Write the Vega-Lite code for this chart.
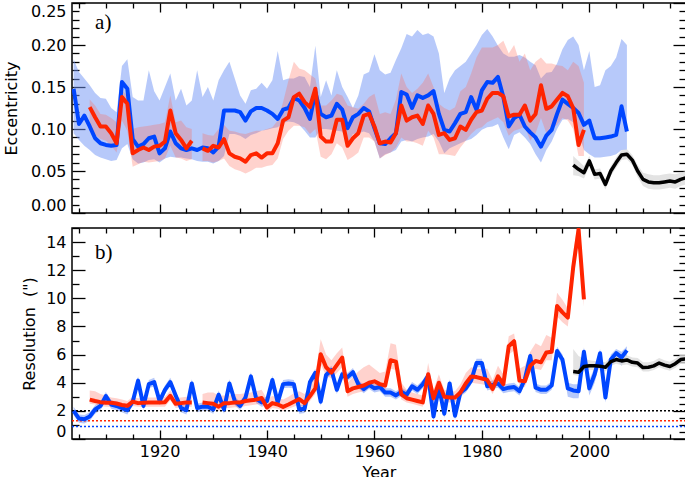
{
  "$schema": "https://vega.github.io/schema/vega-lite/v6.json",
  "background": "white",
  "padding": {"left": 2, "top": 1, "right": 1, "bottom": 0},
  "spacing": 11,
  "config": {
    "view": {"stroke": "black", "strokeWidth": 1.5},
    "axis": {"labelFont": "DejaVu Sans", "labelFontSize": 16, "titleFont": "DejaVu Sans", "titleFontSize": 16, "titleFontWeight": "normal", "labelColor": "black", "titleColor": "black", "tickColor": "black", "tickWidth": 1.3, "domain": false, "grid": false, "labelOverlap": false}
  },
  "datasets": {
    "top": [
      {"year":1904,"b":0.148,"bl":0.095,"bh":0.183},
      {"year":1905,"b":0.106,"bl":0.087,"bh":0.168},
      {"year":1906,"b":0.116,"bl":0.080,"bh":0.160},
      {"year":1907,"b":0.103,"bl":0.075,"bh":0.152,"r":0.126,"rl":0.098,"rh":0.135},
      {"year":1908,"b":0.089,"bl":0.069,"bh":0.143,"r":0.114,"rl":0.093,"rh":0.128},
      {"year":1909,"b":0.083,"bl":0.066,"bh":0.137,"r":0.103,"rl":0.088,"rh":0.118},
      {"year":1910,"b":0.081,"bl":0.064,"bh":0.136,"r":0.103,"rl":0.086,"rh":0.117},
      {"year":1911,"b":0.080,"bl":0.062,"bh":0.125,"r":0.095,"rl":0.080,"rh":0.113},
      {"year":1912,"b":0.081,"bl":0.063,"bh":0.120,"r":0.083,"rl":0.072,"rh":0.108},
      {"year":1913,"b":0.156,"bl":0.077,"bh":0.175,"r":0.138,"rl":0.110,"rh":0.146},
      {"year":1914,"b":0.148,"bl":0.082,"bh":0.183,"r":0.130,"rl":0.098,"rh":0.140},
      {"year":1915,"b":0.088,"bl":0.064,"bh":0.138,"r":0.071,"rl":0.055,"rh":0.100},
      {"year":1916,"b":0.079,"bl":0.059,"bh":0.134,"r":0.075,"rl":0.058,"rh":0.102},
      {"year":1917,"b":0.082,"bl":0.060,"bh":0.134,"r":0.078,"rl":0.061,"rh":0.103},
      {"year":1918,"b":0.089,"bl":0.063,"bh":0.170,"r":0.075,"rl":0.060,"rh":0.104},
      {"year":1919,"b":0.091,"bl":0.064,"bh":0.145,"r":0.079,"rl":0.061,"rh":0.105},
      {"year":1920,"b":0.071,"bl":0.060,"bh":0.134,"r":0.080,"rl":0.062,"rh":0.106},
      {"year":1921,"b":0.077,"bl":0.065,"bh":0.150,"r":0.085,"rl":0.065,"rh":0.108},
      {"year":1922,"b":0.097,"bl":0.067,"bh":0.166,"r":0.122,"rl":0.080,"rh":0.140},
      {"year":1923,"b":0.083,"bl":0.066,"bh":0.134,"r":0.095,"rl":0.066,"rh":0.108},
      {"year":1924,"b":0.077,"bl":0.066,"bh":0.148,"r":0.087,"rl":0.065,"rh":0.110},
      {"year":1925,"b":0.075,"bl":0.065,"bh":0.128,"r":0.077,"rl":0.062,"rh":0.102},
      {"year":1926,"b":0.077,"bl":0.064,"bh":0.134,"r":0.086,"rl":0.064,"rh":0.100},
      {"year":1927,"b":0.075,"bl":0.062,"bh":0.170},
      {"year":1928,"b":0.078,"bl":0.061,"bh":0.138,"r":0.077,"rl":0.062,"rh":0.095},
      {"year":1929,"b":0.077,"bl":0.061,"bh":0.150,"r":0.074,"rl":0.062,"rh":0.093},
      {"year":1930,"b":0.072,"bl":0.059,"bh":0.134,"r":0.080,"rl":0.060,"rh":0.092},
      {"year":1931,"b":0.079,"bl":0.062,"bh":0.158,"r":0.078,"rl":0.062,"rh":0.100},
      {"year":1932,"b":0.122,"bl":0.068,"bh":0.170,"r":0.088,"rl":0.065,"rh":0.105},
      {"year":1933,"b":0.122,"bl":0.094,"bh":0.180,"r":0.071,"rl":0.056,"rh":0.098},
      {"year":1934,"b":0.122,"bl":0.094,"bh":0.160,"r":0.067,"rl":0.052,"rh":0.097},
      {"year":1935,"b":0.120,"bl":0.092,"bh":0.140,"r":0.065,"rl":0.050,"rh":0.095},
      {"year":1936,"b":0.110,"bl":0.088,"bh":0.130,"r":0.061,"rl":0.047,"rh":0.094},
      {"year":1937,"b":0.121,"bl":0.093,"bh":0.146,"r":0.069,"rl":0.050,"rh":0.096},
      {"year":1938,"b":0.125,"bl":0.095,"bh":0.148,"r":0.071,"rl":0.054,"rh":0.098},
      {"year":1939,"b":0.125,"bl":0.098,"bh":0.155,"r":0.066,"rl":0.054,"rh":0.098},
      {"year":1940,"b":0.122,"bl":0.099,"bh":0.148,"r":0.071,"rl":0.056,"rh":0.100},
      {"year":1941,"b":0.118,"bl":0.101,"bh":0.158,"r":0.071,"rl":0.057,"rh":0.102},
      {"year":1942,"b":0.112,"bl":0.102,"bh":0.193,"r":0.083,"rl":0.065,"rh":0.110},
      {"year":1943,"b":0.123,"bl":0.107,"bh":0.158,"r":0.110,"rl":0.088,"rh":0.132},
      {"year":1944,"b":0.125,"bl":0.109,"bh":0.160,"r":0.114,"rl":0.098,"rh":0.158},
      {"year":1945,"b":0.137,"bl":0.108,"bh":0.160,"r":0.138,"rl":0.104,"rh":0.180},
      {"year":1946,"b":0.134,"bl":0.105,"bh":0.163,"r":0.142,"rl":0.104,"rh":0.172},
      {"year":1947,"b":0.125,"bl":0.098,"bh":0.162,"r":0.132,"rl":0.102,"rh":0.170},
      {"year":1948,"b":0.112,"bl":0.090,"bh":0.150,"r":0.126,"rl":0.094,"rh":0.165},
      {"year":1949,"b":0.144,"bl":0.090,"bh":0.199,"r":0.148,"rl":0.100,"rh":0.160},
      {"year":1950,"b":0.118,"bl":0.100,"bh":0.138,"r":0.091,"rl":0.067,"rh":0.128},
      {"year":1951,"b":0.114,"bl":0.100,"bh":0.158,"r":0.085,"rl":0.064,"rh":0.128},
      {"year":1952,"b":0.116,"bl":0.099,"bh":0.140,"r":0.085,"rl":0.070,"rh":0.134},
      {"year":1953,"b":0.130,"bl":0.098,"bh":0.170,"r":0.111,"rl":0.083,"rh":0.142},
      {"year":1954,"b":0.123,"bl":0.097,"bh":0.150,"r":0.111,"rl":0.078,"rh":0.140},
      {"year":1955,"b":0.101,"bl":0.083,"bh":0.138,"r":0.080,"rl":0.063,"rh":0.128},
      {"year":1956,"b":0.114,"bl":0.094,"bh":0.125,"r":0.089,"rl":0.067,"rh":0.126},
      {"year":1957,"b":0.118,"bl":0.095,"bh":0.140,"r":0.095,"rl":0.072,"rh":0.124},
      {"year":1958,"b":0.125,"bl":0.097,"bh":0.165,"r":0.116,"rl":0.090,"rh":0.130},
      {"year":1959,"b":0.121,"bl":0.095,"bh":0.168,"r":0.118,"rl":0.090,"rh":0.138},
      {"year":1960,"b":0.101,"bl":0.085,"bh":0.189,"r":0.103,"rl":0.085,"rh":0.142},
      {"year":1961,"b":0.083,"bl":0.065,"bh":0.170,"r":0.083,"rl":0.065,"rh":0.118},
      {"year":1962,"b":0.082,"bl":0.070,"bh":0.165,"r":0.085,"rl":0.069,"rh":0.120},
      {"year":1963,"b":0.089,"bl":0.072,"bh":0.167,"r":0.084,"rl":0.072,"rh":0.118},
      {"year":1964,"b":0.095,"bl":0.075,"bh":0.182,"r":0.095,"rl":0.078,"rh":0.135},
      {"year":1965,"b":0.144,"bl":0.085,"bh":0.196,"r":0.128,"rl":0.090,"rh":0.166},
      {"year":1966,"b":0.141,"bl":0.087,"bh":0.213,"r":0.110,"rl":0.085,"rh":0.150},
      {"year":1967,"b":0.125,"bl":0.085,"bh":0.210,"r":0.114,"rl":0.085,"rh":0.143},
      {"year":1968,"b":0.140,"bl":0.088,"bh":0.218,"r":0.116,"rl":0.083,"rh":0.148},
      {"year":1969,"b":0.137,"bl":0.090,"bh":0.212,"r":0.106,"rl":0.080,"rh":0.155},
      {"year":1970,"b":0.140,"bl":0.091,"bh":0.214,"r":0.128,"rl":0.098,"rh":0.166},
      {"year":1971,"b":0.145,"bl":0.094,"bh":0.210,"r":0.118,"rl":0.090,"rh":0.150},
      {"year":1972,"b":0.118,"bl":0.085,"bh":0.190,"r":0.093,"rl":0.070,"rh":0.130},
      {"year":1973,"b":0.099,"bl":0.071,"bh":0.143,"r":0.095,"rl":0.070,"rh":0.125},
      {"year":1974,"b":0.097,"bl":0.077,"bh":0.160,"r":0.087,"rl":0.069,"rh":0.122},
      {"year":1975,"b":0.107,"bl":0.080,"bh":0.170,"r":0.089,"rl":0.068,"rh":0.126},
      {"year":1976,"b":0.118,"bl":0.083,"bh":0.175,"r":0.103,"rl":0.078,"rh":0.145},
      {"year":1977,"b":0.120,"bl":0.086,"bh":0.180,"r":0.099,"rl":0.086,"rh":0.150},
      {"year":1978,"b":0.138,"bl":0.088,"bh":0.190,"r":0.111,"rl":0.094,"rh":0.166},
      {"year":1979,"b":0.123,"bl":0.093,"bh":0.200,"r":0.120,"rl":0.100,"rh":0.185},
      {"year":1980,"b":0.146,"bl":0.099,"bh":0.212,"r":0.122,"rl":0.102,"rh":0.197},
      {"year":1981,"b":0.156,"bl":0.102,"bh":0.219,"r":0.136,"rl":0.108,"rh":0.197},
      {"year":1982,"b":0.155,"bl":0.103,"bh":0.210,"r":0.143,"rl":0.111,"rh":0.197},
      {"year":1983,"b":0.162,"bl":0.106,"bh":0.199,"r":0.143,"rl":0.114,"rh":0.200},
      {"year":1984,"b":0.138,"bl":0.090,"bh":0.190,"r":0.139,"rl":0.108,"rh":0.205},
      {"year":1985,"b":0.103,"bl":0.076,"bh":0.186,"r":0.115,"rl":0.092,"rh":0.190},
      {"year":1986,"b":0.113,"bl":0.093,"bh":0.186,"r":0.117,"rl":0.098,"rh":0.200},
      {"year":1987,"b":0.117,"bl":0.096,"bh":0.188,"r":0.117,"rl":0.100,"rh":0.180},
      {"year":1988,"b":0.103,"bl":0.090,"bh":0.185,"r":0.128,"rl":0.103,"rh":0.190},
      {"year":1989,"b":0.096,"bl":0.082,"bh":0.180,"r":0.110,"rl":0.086,"rh":0.170},
      {"year":1990,"b":0.090,"bl":0.070,"bh":0.176,"r":0.118,"rl":0.095,"rh":0.180},
      {"year":1991,"b":0.079,"bl":0.060,"bh":0.160,"r":0.152,"rl":0.113,"rh":0.185},
      {"year":1992,"b":0.092,"bl":0.075,"bh":0.167,"r":0.124,"rl":0.095,"rh":0.178},
      {"year":1993,"b":0.099,"bl":0.085,"bh":0.168,"r":0.127,"rl":0.100,"rh":0.178},
      {"year":1994,"b":0.118,"bl":0.100,"bh":0.178,"r":0.135,"rl":0.105,"rh":0.176},
      {"year":1995,"b":0.135,"bl":0.111,"bh":0.195,"r":0.143,"rl":0.113,"rh":0.175},
      {"year":1996,"b":0.130,"bl":0.112,"bh":0.206,"r":0.139,"rl":0.110,"rh":0.170},
      {"year":1997,"b":0.125,"bl":0.108,"bh":0.210,"r":0.125,"rl":0.100,"rh":0.180},
      {"year":1998,"b":0.119,"bl":0.095,"bh":0.200,"r":0.081,"rl":0.068,"rh":0.175},
      {"year":1999,"b":0.105,"bl":0.075,"bh":0.170,"r":0.099,"rl":0.068,"rh":0.155},
      {"year":2000,"b":0.110,"bl":0.070,"bh":0.193},
      {"year":2001,"b":0.089,"bl":0.066,"bh":0.150},
      {"year":2002,"b":0.089,"bl":0.066,"bh":0.152},
      {"year":2003,"b":0.090,"bl":0.067,"bh":0.170},
      {"year":2004,"b":0.091,"bl":0.068,"bh":0.175},
      {"year":2005,"b":0.093,"bl":0.070,"bh":0.185},
      {"year":2006,"b":0.127,"bl":0.075,"bh":0.207},
      {"year":2007,"b":0.097,"bl":0.075,"bh":0.200}
    ],
    "topk": [
      {"year":1997,"k":0.057,"kl":0.045,"kh":0.068},
      {"year":1998,"k":0.052,"kl":0.044,"kh":0.062},
      {"year":1999,"k":0.048,"kl":0.041,"kh":0.056},
      {"year":2000,"k":0.062,"kl":0.055,"kh":0.068},
      {"year":2001,"k":0.046,"kl":0.040,"kh":0.052},
      {"year":2002,"k":0.047,"kl":0.041,"kh":0.053},
      {"year":2003,"k":0.034,"kl":0.028,"kh":0.040},
      {"year":2004,"k":0.050,"kl":0.044,"kh":0.056},
      {"year":2005,"k":0.060,"kl":0.054,"kh":0.066},
      {"year":2006,"k":0.069,"kl":0.063,"kh":0.075},
      {"year":2007,"k":0.070,"kl":0.064,"kh":0.076},
      {"year":2008,"k":0.063,"kl":0.057,"kh":0.069},
      {"year":2009,"k":0.050,"kl":0.043,"kh":0.057},
      {"year":2010,"k":0.040,"kl":0.032,"kh":0.048},
      {"year":2011,"k":0.037,"kl":0.029,"kh":0.046},
      {"year":2012,"k":0.036,"kl":0.028,"kh":0.045},
      {"year":2013,"k":0.036,"kl":0.028,"kh":0.045},
      {"year":2014,"k":0.037,"kl":0.029,"kh":0.046},
      {"year":2015,"k":0.038,"kl":0.030,"kh":0.047},
      {"year":2016,"k":0.037,"kl":0.029,"kh":0.046},
      {"year":2017,"k":0.040,"kl":0.032,"kh":0.048},
      {"year":2018,"k":0.042,"kl":0.034,"kh":0.050}
    ],
    "bot": [
      {"year":1904,"b":2.0,"bl":1.7,"bh":2.3},
      {"year":1905,"b":1.45,"bl":1.15,"bh":1.75},
      {"year":1906,"b":1.4,"bl":1.1,"bh":1.7},
      {"year":1907,"b":1.6,"bl":1.3,"bh":1.9,"r":2.8,"rl":2.5,"rh":3.45},
      {"year":1908,"b":2.1,"bl":1.8,"bh":2.4,"r":2.7,"rl":2.45,"rh":3.4},
      {"year":1909,"b":2.35,"bl":2.05,"bh":2.65,"r":2.62,"rl":2.35,"rh":3.2},
      {"year":1910,"b":3.05,"bl":2.75,"bh":3.35,"r":2.58,"rl":2.3,"rh":3.1},
      {"year":1911,"b":2.45,"bl":2.15,"bh":2.75,"r":2.58,"rl":2.3,"rh":2.95},
      {"year":1912,"b":2.35,"bl":2.05,"bh":2.65,"r":2.52,"rl":2.25,"rh":2.9},
      {"year":1913,"b":2.2,"bl":1.9,"bh":2.5,"r":2.42,"rl":2.15,"rh":2.8},
      {"year":1914,"b":2.05,"bl":1.75,"bh":2.35,"r":2.36,"rl":2.1,"rh":2.7},
      {"year":1915,"b":2.65,"bl":2.35,"bh":2.95,"r":2.66,"rl":2.35,"rh":3.0},
      {"year":1916,"b":4.15,"bl":3.85,"bh":4.45,"r":2.55,"rl":2.3,"rh":2.9},
      {"year":1917,"b":2.35,"bl":2.05,"bh":2.65,"r":2.58,"rl":2.3,"rh":2.9},
      {"year":1918,"b":3.9,"bl":3.6,"bh":4.2,"r":2.6,"rl":2.3,"rh":2.95},
      {"year":1919,"b":4.05,"bl":3.75,"bh":4.35,"r":2.6,"rl":2.3,"rh":2.95},
      {"year":1920,"b":2.7,"bl":2.4,"bh":3.0,"r":2.6,"rl":2.3,"rh":2.95},
      {"year":1921,"b":3.5,"bl":3.2,"bh":3.8,"r":2.62,"rl":2.3,"rh":3.0},
      {"year":1922,"b":4.05,"bl":3.75,"bh":4.35,"r":3.07,"rl":2.75,"rh":3.45},
      {"year":1923,"b":3.1,"bl":2.8,"bh":3.4,"r":2.5,"rl":2.2,"rh":2.9},
      {"year":1924,"b":2.2,"bl":1.9,"bh":2.5,"r":2.55,"rl":2.25,"rh":2.95},
      {"year":1925,"b":2.05,"bl":1.75,"bh":2.35,"r":2.6,"rl":2.3,"rh":3.0},
      {"year":1926,"b":3.95,"bl":3.65,"bh":4.25,"r":2.6,"rl":2.3,"rh":3.0},
      {"year":1927,"b":2.2,"bl":1.9,"bh":2.5},
      {"year":1928,"b":2.3,"bl":2.0,"bh":2.6,"r":2.6,"rl":2.25,"rh":3.2},
      {"year":1929,"b":2.3,"bl":2.0,"bh":2.6,"r":2.55,"rl":2.2,"rh":3.3},
      {"year":1930,"b":2.1,"bl":1.8,"bh":2.4,"r":2.5,"rl":2.15,"rh":3.3},
      {"year":1931,"b":3.15,"bl":2.85,"bh":3.45,"r":2.3,"rl":2.0,"rh":3.1},
      {"year":1932,"b":2.1,"bl":1.8,"bh":2.4,"r":2.55,"rl":2.2,"rh":3.1},
      {"year":1933,"b":3.95,"bl":3.65,"bh":4.25,"r":2.55,"rl":2.2,"rh":3.1},
      {"year":1934,"b":2.7,"bl":2.4,"bh":3.0,"r":2.6,"rl":2.25,"rh":3.2},
      {"year":1935,"b":2.35,"bl":2.05,"bh":2.65,"r":2.6,"rl":2.25,"rh":3.2},
      {"year":1936,"b":2.95,"bl":2.65,"bh":3.25,"r":2.7,"rl":2.35,"rh":3.25},
      {"year":1937,"b":4.45,"bl":4.15,"bh":4.75,"r":2.75,"rl":2.4,"rh":3.3},
      {"year":1938,"b":2.85,"bl":2.55,"bh":3.15,"r":2.8,"rl":2.45,"rh":3.4},
      {"year":1939,"b":2.6,"bl":2.3,"bh":2.9,"r":2.92,"rl":2.55,"rh":3.5},
      {"year":1940,"b":2.7,"bl":2.4,"bh":3.0,"r":2.24,"rl":1.95,"rh":2.85},
      {"year":1941,"b":4.2,"bl":3.9,"bh":4.5,"r":2.55,"rl":2.2,"rh":3.05},
      {"year":1942,"b":2.6,"bl":2.3,"bh":2.9,"r":2.45,"rl":2.15,"rh":2.95},
      {"year":1943,"b":3.9,"bl":3.6,"bh":4.2,"r":2.28,"rl":2.0,"rh":2.8},
      {"year":1944,"b":3.95,"bl":3.65,"bh":4.25,"r":2.45,"rl":2.15,"rh":3.0},
      {"year":1945,"b":3.9,"bl":3.6,"bh":4.2,"r":2.65,"rl":2.3,"rh":3.25},
      {"year":1946,"b":2.1,"bl":1.8,"bh":2.4,"r":2.84,"rl":2.45,"rh":3.4},
      {"year":1947,"b":2.15,"bl":1.85,"bh":2.45,"r":2.55,"rl":2.2,"rh":3.2},
      {"year":1948,"b":4.05,"bl":3.75,"bh":4.35,"r":3.05,"rl":2.7,"rh":3.7},
      {"year":1949,"b":4.7,"bl":4.4,"bh":5.0,"r":3.6,"rl":3.2,"rh":4.6},
      {"year":1950,"b":2.65,"bl":2.35,"bh":2.95,"r":6.03,"rl":5.3,"rh":7.1},
      {"year":1951,"b":4.55,"bl":4.25,"bh":4.85,"r":5.1,"rl":4.5,"rh":6.0},
      {"year":1952,"b":4.9,"bl":4.6,"bh":5.2,"r":4.72,"rl":4.3,"rh":5.6},
      {"year":1953,"b":3.5,"bl":3.2,"bh":3.8,"r":5.25,"rl":4.7,"rh":6.1},
      {"year":1954,"b":4.6,"bl":4.3,"bh":4.9,"r":5.79,"rl":5.1,"rh":6.5},
      {"year":1955,"b":4.4,"bl":4.1,"bh":4.7,"r":3.4,"rl":3.0,"rh":4.0},
      {"year":1956,"b":4.75,"bl":4.45,"bh":5.05,"r":3.6,"rl":3.2,"rh":4.4},
      {"year":1957,"b":3.9,"bl":3.6,"bh":4.2,"r":3.7,"rl":3.3,"rh":4.8},
      {"year":1958,"b":3.55,"bl":3.25,"bh":3.85,"r":3.8,"rl":3.4,"rh":5.1},
      {"year":1959,"b":3.85,"bl":3.55,"bh":4.15,"r":4.0,"rl":3.6,"rh":5.3},
      {"year":1960,"b":3.6,"bl":3.3,"bh":3.9,"r":4.1,"rl":3.7,"rh":5.0},
      {"year":1961,"b":3.7,"bl":3.4,"bh":4.0,"r":3.9,"rl":3.5,"rh":4.7},
      {"year":1962,"b":3.3,"bl":3.0,"bh":3.6,"r":3.8,"rl":3.4,"rh":4.8},
      {"year":1963,"b":3.3,"bl":3.0,"bh":3.6,"r":5.6,"rl":5.0,"rh":6.8},
      {"year":1964,"b":3.1,"bl":2.8,"bh":3.4,"r":5.5,"rl":4.9,"rh":6.7},
      {"year":1965,"b":3.35,"bl":3.05,"bh":3.65,"r":3.18,"rl":2.8,"rh":4.0},
      {"year":1966,"b":3.15,"bl":2.85,"bh":3.45,"r":2.9,"rl":2.6,"rh":3.5},
      {"year":1967,"b":3.75,"bl":3.45,"bh":4.05,"r":2.8,"rl":2.5,"rh":3.3},
      {"year":1968,"b":3.5,"bl":3.2,"bh":3.8,"r":2.7,"rl":2.4,"rh":3.2},
      {"year":1969,"b":3.9,"bl":3.6,"bh":4.2,"r":2.6,"rl":2.3,"rh":3.1},
      {"year":1970,"b":4.5,"bl":4.2,"bh":4.8,"r":4.6,"rl":4.1,"rh":5.4},
      {"year":1971,"b":1.6,"bl":1.3,"bh":1.9,"r":2.9,"rl":2.55,"rh":3.5},
      {"year":1972,"b":3.7,"bl":3.4,"bh":4.0,"r":4.0,"rl":3.6,"rh":4.6},
      {"year":1973,"b":1.8,"bl":1.5,"bh":2.1,"r":3.0,"rl":2.65,"rh":3.5},
      {"year":1974,"b":3.95,"bl":3.65,"bh":4.25,"r":2.95,"rl":2.6,"rh":3.4},
      {"year":1975,"b":1.65,"bl":1.35,"bh":1.95,"r":2.95,"rl":2.6,"rh":3.4},
      {"year":1976,"b":3.3,"bl":3.0,"bh":3.6,"r":3.3,"rl":2.95,"rh":3.9},
      {"year":1977,"b":3.6,"bl":3.3,"bh":3.9,"r":3.95,"rl":3.55,"rh":4.7},
      {"year":1978,"b":4.15,"bl":3.85,"bh":4.45,"r":4.45,"rl":4.0,"rh":5.1},
      {"year":1979,"b":5.4,"bl":5.1,"bh":5.7,"r":4.4,"rl":3.95,"rh":5.0},
      {"year":1980,"b":5.4,"bl":5.1,"bh":5.7,"r":4.3,"rl":3.9,"rh":5.0},
      {"year":1981,"b":3.75,"bl":3.45,"bh":4.05,"r":4.2,"rl":3.8,"rh":5.0},
      {"year":1982,"b":3.85,"bl":3.55,"bh":4.15,"r":3.55,"rl":3.2,"rh":4.2},
      {"year":1983,"b":3.95,"bl":3.65,"bh":4.25,"r":4.45,"rl":4.0,"rh":5.2},
      {"year":1984,"b":3.55,"bl":3.25,"bh":3.85,"r":3.9,"rl":3.5,"rh":4.6},
      {"year":1985,"b":3.65,"bl":3.35,"bh":3.95,"r":6.6,"rl":6.0,"rh":7.3},
      {"year":1986,"b":3.7,"bl":3.4,"bh":4.0,"r":6.95,"rl":6.3,"rh":7.5},
      {"year":1987,"b":3.4,"bl":3.1,"bh":3.7,"r":4.15,"rl":3.7,"rh":5.0},
      {"year":1988,"b":4.25,"bl":3.95,"bh":4.55,"r":4.1,"rl":3.7,"rh":5.2},
      {"year":1989,"b":5.9,"bl":5.6,"bh":6.2,"r":5.2,"rl":4.7,"rh":6.2},
      {"year":1990,"b":3.65,"bl":3.35,"bh":3.95,"r":5.55,"rl":5.0,"rh":6.8},
      {"year":1991,"b":3.5,"bl":3.2,"bh":3.8,"r":5.45,"rl":4.9,"rh":6.6},
      {"year":1992,"b":3.5,"bl":3.2,"bh":3.8,"r":6.15,"rl":5.6,"rh":7.4},
      {"year":1993,"b":3.8,"bl":3.5,"bh":4.1,"r":6.2,"rl":5.6,"rh":7.2},
      {"year":1994,"b":6.25,"bl":5.95,"bh":6.55,"r":9.45,"rl":8.7,"rh":10.4},
      {"year":1995,"b":5.65,"bl":5.3,"bh":6.0,"r":9.0,"rl":8.3,"rh":9.9},
      {"year":1996,"b":3.6,"bl":3.0,"bh":4.0,"r":8.63,"rl":8.0,"rh":9.3},
      {"year":1997,"b":3.45,"bl":2.9,"bh":3.9,"r":12.2,"rl":11.5,"rh":13.2},
      {"year":1998,"b":3.4,"bl":2.9,"bh":3.9,"r":14.9,"rl":14.2,"rh":15.8},
      {"year":1999,"b":6.2,"bl":5.6,"bh":6.5,"r":9.93,"rl":9.4,"rh":10.5},
      {"year":2000,"b":3.6,"bl":3.1,"bh":4.2},
      {"year":2001,"b":4.6,"bl":4.0,"bh":5.1},
      {"year":2002,"b":6.1,"bl":5.5,"bh":6.4},
      {"year":2003,"b":2.95,"bl":2.6,"bh":3.5},
      {"year":2004,"b":5.65,"bl":5.1,"bh":6.0},
      {"year":2005,"b":6.1,"bl":5.6,"bh":6.4},
      {"year":2006,"b":5.8,"bl":5.2,"bh":6.2},
      {"year":2007,"b":6.3,"bl":5.9,"bh":6.6}
    ],
    "botk": [
      {"year":1997,"k":4.8,"kl":4.55,"kh":6.4},
      {"year":1998,"k":4.75,"kl":4.5,"kh":5.9},
      {"year":1999,"k":5.15,"kl":4.85,"kh":5.7},
      {"year":2000,"k":5.2,"kl":4.9,"kh":5.6},
      {"year":2001,"k":5.2,"kl":4.9,"kh":5.55},
      {"year":2002,"k":5.18,"kl":4.9,"kh":5.5},
      {"year":2003,"k":5.1,"kl":4.8,"kh":5.45},
      {"year":2004,"k":5.5,"kl":5.2,"kh":5.85},
      {"year":2005,"k":5.65,"kl":5.35,"kh":6.0},
      {"year":2006,"k":5.55,"kl":5.25,"kh":5.9},
      {"year":2007,"k":5.62,"kl":5.3,"kh":5.95},
      {"year":2008,"k":5.45,"kl":5.15,"kh":5.8},
      {"year":2009,"k":5.4,"kl":5.1,"kh":5.75},
      {"year":2010,"k":5.08,"kl":4.8,"kh":5.45},
      {"year":2011,"k":5.1,"kl":4.8,"kh":5.45},
      {"year":2012,"k":5.2,"kl":4.9,"kh":5.55},
      {"year":2013,"k":5.4,"kl":5.1,"kh":5.75},
      {"year":2014,"k":5.25,"kl":4.95,"kh":5.6},
      {"year":2015,"k":5.15,"kl":4.85,"kh":5.5},
      {"year":2016,"k":5.35,"kl":5.05,"kh":5.7},
      {"year":2017,"k":5.65,"kl":5.35,"kh":6.0},
      {"year":2018,"k":5.7,"kl":5.4,"kh":6.05}
    ],
    "levels": [
      {"level": 2.0, "c": "k"},
      {"level": 1.3, "c": "r"},
      {"level": 0.88, "c": "b"}
    ]
  },
  "vconcat": [
    {
      "width": 614,
      "height": 210,
      "resolve": {"axis": {"x": "independent", "y": "independent"}},
      "layer": [
        {
          "data": {"name": "top"},
          "mark": {"type": "area", "color": "#6f93f5", "opacity": 0.5, "clip": true},
          "encoding": {
            "x": {"field": "year", "type": "quantitative", "scale": {"domain": [1903.7, 2018], "nice": false, "zero": false},
              "axis": {"orient": "bottom", "values": [1905,1910,1915,1920,1925,1930,1935,1940,1945,1950,1955,1960,1965,1970,1975,1980,1985,1990,1995,2000,2005,2010,2015], "labels": false, "title": null,
                "tickSize": {"condition": {"test": "datum.value % 20 === 0", "value": -9}, "value": -5}}},
            "y": {"field": "bh", "type": "quantitative", "scale": {"domain": [0, 0.25], "nice": false, "zero": false},
              "axis": {"orient": "left", "values": [0,0.01,0.02,0.03,0.04,0.05,0.06,0.07,0.08,0.09,0.1,0.11,0.12,0.13,0.14,0.15,0.16,0.17,0.18,0.19,0.2,0.21,0.22,0.23,0.24,0.25],
                "format": ".2f", "labelExpr": "abs(datum.value*20 - round(datum.value*20)) < 0.001 ? datum.label : ''",
                "tickSize": {"condition": {"test": "abs(datum.value*20 - round(datum.value*20)) < 0.001", "value": -13}, "value": -7},
                "labelPadding": 19, "labelFlush": true, "title": "Eccentricity", "titlePadding": 11}},
            "y2": {"field": "bl"}
          }
        },
        {
          "data": {"name": "top"},
          "mark": {"type": "area", "color": "#ff6a5a", "opacity": 0.3, "clip": true},
          "encoding": {
            "x": {"field": "year", "type": "quantitative", "axis": null},
            "y": {"field": "rh", "type": "quantitative", "axis": null},
            "y2": {"field": "rl"}
          }
        },
        {
          "data": {"name": "topk"},
          "mark": {"type": "area", "color": "#dcdcdc", "opacity": 0.8, "clip": true},
          "encoding": {
            "x": {"field": "year", "type": "quantitative", "axis": null},
            "y": {"field": "kh", "type": "quantitative", "axis": null},
            "y2": {"field": "kl"}
          }
        },
        {
          "data": {"name": "top"},
          "mark": {"type": "line", "color": "#0046ff", "strokeWidth": 4, "strokeJoin": "round", "clip": true},
          "encoding": {
            "x": {"field": "year", "type": "quantitative",
              "axis": {"orient": "top", "values": [1905,1910,1915,1920,1925,1930,1935,1940,1945,1950,1955,1960,1965,1970,1975,1980,1985,1990,1995,2000,2005,2010,2015], "labels": false, "title": null,
                "tickSize": {"condition": {"test": "datum.value % 20 === 0", "value": -9}, "value": -5}}},
            "y": {"field": "b", "type": "quantitative",
              "axis": {"orient": "right", "values": [0,0.01,0.02,0.03,0.04,0.05,0.06,0.07,0.08,0.09,0.1,0.11,0.12,0.13,0.14,0.15,0.16,0.17,0.18,0.19,0.2,0.21,0.22,0.23,0.24,0.25], "labels": false, "title": null,
                "tickSize": {"condition": {"test": "abs(datum.value*20 - round(datum.value*20)) < 0.001", "value": -13}, "value": -7}}}
          }
        },
        {
          "data": {"name": "top"},
          "mark": {"type": "line", "color": "#ff2400", "strokeWidth": 4, "strokeJoin": "round", "clip": true, "invalid": "break-paths-show-domains"},
          "encoding": {
            "x": {"field": "year", "type": "quantitative", "axis": null},
            "y": {"field": "r", "type": "quantitative", "axis": null}
          }
        },
        {
          "data": {"name": "topk"},
          "mark": {"type": "line", "color": "black", "strokeWidth": 3.5, "strokeJoin": "round", "clip": true},
          "encoding": {
            "x": {"field": "year", "type": "quantitative", "axis": null},
            "y": {"field": "k", "type": "quantitative", "axis": null}
          }
        },
        {
          "data": {"values": [{"year": 1908.0, "v": 0.2265, "t": "a)"}]},
          "mark": {"type": "text", "font": "Liberation Serif", "fontSize": 21, "align": "left", "baseline": "middle", "color": "black"},
          "encoding": {
            "x": {"field": "year", "type": "quantitative", "axis": null},
            "y": {"field": "v", "type": "quantitative", "axis": null},
            "text": {"field": "t"}
          }
        }
      ]
    },
    {
      "width": 614,
      "height": 211,
      "resolve": {"axis": {"x": "independent", "y": "independent"}},
      "layer": [
        {
          "data": {"name": "bot"},
          "mark": {"type": "area", "color": "#6f93f5", "opacity": 0.5, "clip": true},
          "encoding": {
            "x": {"field": "year", "type": "quantitative", "scale": {"domain": [1903.7, 2018], "nice": false, "zero": false},
              "axis": {"orient": "bottom", "values": [1905,1910,1915,1920,1925,1930,1935,1940,1945,1950,1955,1960,1965,1970,1975,1980,1985,1990,1995,2000,2005,2010,2015], "format": "d",
                "labelExpr": "datum.value % 20 === 0 ? datum.label : ''", "labelPadding": 13, "title": "Year", "titlePadding": 1,
                "tickSize": {"condition": {"test": "datum.value % 20 === 0", "value": -9}, "value": -5}}},
            "y": {"field": "bh", "type": "quantitative", "scale": {"domain": [0, 15], "nice": false, "zero": false},
              "axis": {"orient": "left", "values": [0,0.5,1,1.5,2,2.5,3,3.5,4,4.5,5,5.5,6,6.5,7,7.5,8,8.5,9,9.5,10,10.5,11,11.5,12,12.5,13,13.5,14,14.5,15],
                "format": "d", "labelExpr": "datum.value % 2 === 0 ? datum.label : ''",
                "tickSize": {"condition": {"test": "datum.value % 2 === 0", "value": -13}, "value": -7},
                "labelPadding": 19, "labelFlush": true, "title": "Resolution\u00a0 (\")", "titlePadding": 8}},
            "y2": {"field": "bl"}
          }
        },
        {
          "data": {"name": "bot"},
          "mark": {"type": "area", "color": "#ff6a5a", "opacity": 0.3, "clip": true},
          "encoding": {
            "x": {"field": "year", "type": "quantitative", "axis": null},
            "y": {"field": "rh", "type": "quantitative", "axis": null},
            "y2": {"field": "rl"}
          }
        },
        {
          "data": {"name": "botk"},
          "mark": {"type": "area", "color": "#dcdcdc", "opacity": 0.8, "clip": true},
          "encoding": {
            "x": {"field": "year", "type": "quantitative", "axis": null},
            "y": {"field": "kh", "type": "quantitative", "axis": null},
            "y2": {"field": "kl"}
          }
        },
        {
          "data": {"name": "levels"},
          "mark": {"type": "rule", "strokeDash": [2, 2], "strokeWidth": 1.5},
          "encoding": {
            "y": {"field": "level", "type": "quantitative", "axis": null},
            "color": {"field": "c", "type": "nominal", "scale": {"domain": ["k", "r", "b"], "range": ["black", "#ff2400", "#0046ff"]}, "legend": null}
          }
        },
        {
          "data": {"name": "bot"},
          "mark": {"type": "line", "color": "#0046ff", "strokeWidth": 4, "strokeJoin": "round", "clip": true},
          "encoding": {
            "x": {"field": "year", "type": "quantitative",
              "axis": {"orient": "top", "values": [1905,1910,1915,1920,1925,1930,1935,1940,1945,1950,1955,1960,1965,1970,1975,1980,1985,1990,1995,2000,2005,2010,2015], "labels": false, "title": null,
                "tickSize": {"condition": {"test": "datum.value % 20 === 0", "value": -9}, "value": -5}}},
            "y": {"field": "b", "type": "quantitative",
              "axis": {"orient": "right", "values": [0,0.5,1,1.5,2,2.5,3,3.5,4,4.5,5,5.5,6,6.5,7,7.5,8,8.5,9,9.5,10,10.5,11,11.5,12,12.5,13,13.5,14,14.5,15], "labels": false, "title": null,
                "tickSize": {"condition": {"test": "datum.value % 2 === 0", "value": -13}, "value": -7}}}
          }
        },
        {
          "data": {"name": "bot"},
          "mark": {"type": "line", "color": "#ff2400", "strokeWidth": 4, "strokeJoin": "round", "clip": true, "invalid": "break-paths-show-domains"},
          "encoding": {
            "x": {"field": "year", "type": "quantitative", "axis": null},
            "y": {"field": "r", "type": "quantitative", "axis": null}
          }
        },
        {
          "data": {"name": "botk"},
          "mark": {"type": "line", "color": "black", "strokeWidth": 3.5, "strokeJoin": "round", "clip": true},
          "encoding": {
            "x": {"field": "year", "type": "quantitative", "axis": null},
            "y": {"field": "k", "type": "quantitative", "axis": null}
          }
        },
        {
          "data": {"values": [{"year": 1908.0, "v": 13.2, "t": "b)"}]},
          "mark": {"type": "text", "font": "Liberation Serif", "fontSize": 21, "align": "left", "baseline": "middle", "color": "black"},
          "encoding": {
            "x": {"field": "year", "type": "quantitative", "axis": null},
            "y": {"field": "v", "type": "quantitative", "axis": null},
            "text": {"field": "t"}
          }
        }
      ]
    }
  ]
}
